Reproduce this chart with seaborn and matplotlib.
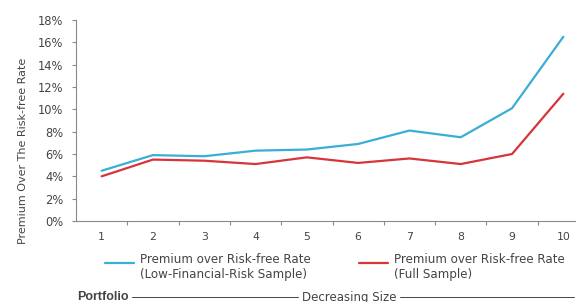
import matplotlib
matplotlib.use("Agg")
import matplotlib.pyplot as plt
import seaborn as sns
import pandas as pd
from matplotlib.lines import Line2D
from matplotlib.legend_handler import HandlerLine2D

portfolios = [1, 2, 3, 4, 5, 6, 7, 8, 9, 10]
low_risk = [4.5, 5.9, 5.8, 6.3, 6.4, 6.9, 8.1, 7.5, 10.1, 16.5]
full_sample = [4.0, 5.5, 5.4, 5.1, 5.7, 5.2, 5.6, 5.1, 6.0, 11.4]
series_names = ["Premium over Risk-free Rate\n(Low-Financial-Risk Sample)",
                "Premium over Risk-free Rate\n(Full Sample)"]
y_ticks = [0, 2, 4, 6, 8, 10, 12, 14, 16, 18]

sns.set_theme(style="white")
plt.rcParams['font.family'] = ['DejaVu Sans']

df = pd.DataFrame({
    "Portfolio": portfolios * 2,
    "Premium": low_risk + full_sample,
    "Series": [series_names[0]] * len(portfolios) + [series_names[1]] * len(portfolios),
})

colors = {series_names[0]: "#3aaed6", series_names[1]: "#d6353a"}

fig = plt.figure(figsize=(5.76, 3.02), dpi=100)
ax = fig.add_axes([76 / 576, 81 / 302, 513 / 576, 201 / 302])
sns.lineplot(data=df, x="Portfolio", y="Premium", hue="Series", palette=colors,
             linewidth=1.6, ax=ax, legend=False)

gray = "#8a8a8a"
txt = "#444444"
ax.set_xlim(0.5, 10.5)
ax.set_ylim(0, 18)
ax.set_yticks(y_ticks)
ax.set_yticklabels([f"{v}%" for v in y_ticks], color=txt, fontsize=8.3)
ax.set_xticks(portfolios)
ax.set_xticklabels([str(p) for p in portfolios], color=txt, fontsize=7.8)
ax.set_xticks([p + 0.5 for p in portfolios[:-1]], minor=True)
ax.tick_params(axis="x", which="major", length=0, pad=8)
ax.tick_params(axis="x", which="minor", length=3, color=gray, width=0.8, direction="out", bottom=True)
ax.tick_params(axis="y", length=3, color=gray, width=0.8, direction="out", left=True, pad=6)
ax.set_xlabel("")
ax.set_ylabel("Premium Over The Risk-free Rate", color=txt, fontsize=8)
ax.yaxis.set_label_coords(28 / 576, 0.5, transform=fig.transFigure)
for s in ["top", "right"]:
    ax.spines[s].set_visible(False)
for s in ["left", "bottom"]:
    ax.spines[s].set_color(gray)
    ax.spines[s].set_linewidth(0.8)


class TopLineHandler(HandlerLine2D):
    def create_artists(self, legend, orig_handle, xdescent, ydescent, width, height,
                       fontsize, trans):
        artists = super().create_artists(legend, orig_handle, xdescent, ydescent, width,
                                         height, fontsize, trans)
        for a in artists:
            yd = a.get_ydata()
            a.set_ydata([y + 0.42 * fontsize for y in yd])
        return artists


handles = [Line2D([], [], color=colors[n], linewidth=1.6) for n in series_names]
fig.legend(handles, series_names, loc="center left", bbox_to_anchor=(105 / 576, 1 - 267 / 302),
           ncol=2, frameon=False, fontsize=8.6, handlelength=2.4, handletextpad=0.5,
           columnspacing=4.1, labelcolor=txt, borderpad=0, borderaxespad=0,
           handler_map={Line2D: TopLineHandler()})

# bottom annotation
y_b = 1 - 297 / 302
fig.text(77 / 576, y_b, "Portfolio", fontsize=9, fontweight="bold", color=txt, va="center",
         fontfamily="Liberation Sans")
fig.text(302 / 576, y_b, "Decreasing Size", fontsize=8.5, color=txt, va="center")
fig.add_artist(Line2D([132 / 576, 298 / 576], [y_b, y_b], color=txt, linewidth=0.7))
fig.add_artist(Line2D([400 / 576, 574 / 576], [y_b, y_b], color=txt, linewidth=0.7))

fig.savefig("out.png", dpi=100)
